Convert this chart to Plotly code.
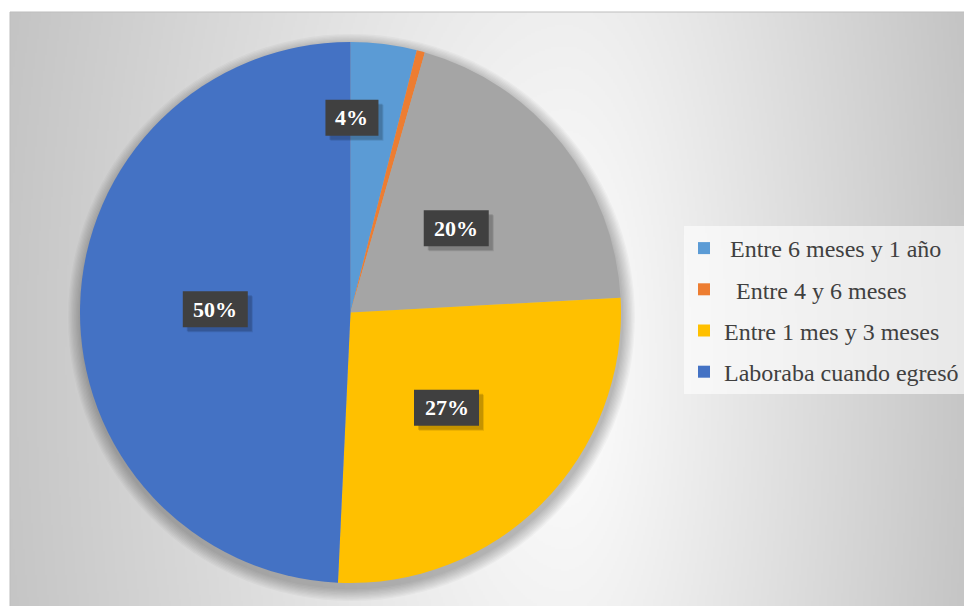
import base64
import math
import struct
import zlib

import numpy as np
import plotly.graph_objects as go

# ---- data -------------------------------------------------------------
# Slices in drawing order (clockwise from 12 o'clock), values in percent.
SLICE_VALUES = [4, 0.5, 20, 27, 50]
SLICE_COLORS = ["#5B9BD5", "#ED7D31", "#A5A5A5", "#FFC000", "#4472C4"]
# Text shown on each slice (None = no label on that slice)
SLICE_LABELS = ["4%", None, "20%", "27%", "50%"]

# Legend entries (the grey slice has no legend entry)
LEGEND_NAMES = ["\u00a0Entre 6 meses y 1 año", "\u00a0\u00a0Entre 4 y 6 meses",
                "Entre 1 mes y 3 meses", "Laboraba cuando egresó"]
LEGEND_COLORS = ["#5B9BD5", "#ED7D31", "#FFC000", "#4472C4"]

# ---- geometry (pixels) -------------------------------------------------
W, H = 964, 606
CX, CY, R = 350.5, 312.5, 270.5          # pie centre and radius
PANEL_X0, PANEL_Y0 = 10, 12                # chart-area top-left corner
# label placement inside each slice: (fraction along slice, radius factor)
LABEL_PLACE = [(0.03, 0.72), None, (0.5, 0.5), (0.5, 0.5), (0.5, 0.5)]


def px_to_paper(x, y):
    return x / W, 1 - y / H


# ---- grey gradient background ------------------------------------------
def gradient_png():
    step = 2
    xs = np.arange(PANEL_X0, W, step, dtype=float)
    ys = np.arange(PANEL_Y0, H, step, dtype=float)
    X, Y = np.meshgrid(xs, ys)
    gx, gy = 565.0, 360.0
    dx = X - gx
    tx = np.where(dx < 0, dx / 560.0, dx / 400.0)
    ty = (Y - gy) / 1200.0
    d = np.sqrt(tx ** 2 + ty ** 2)
    g = np.clip(255 - 57 * d, 0, 255).astype(np.uint8)
    h, w = g.shape
    raw = b"".join(b"\x00" + g[i].tobytes() for i in range(h))

    def chunk(kind, data):
        return (struct.pack(">I", len(data)) + kind + data
                + struct.pack(">I", zlib.crc32(kind + data) & 0xFFFFFFFF))

    png = (b"\x89PNG\r\n\x1a\n"
           + chunk(b"IHDR", struct.pack(">IIBBBBB", w, h, 8, 0, 0, 0, 0))
           + chunk(b"IDAT", zlib.compress(raw, 9))
           + chunk(b"IEND", b""))
    return "data:image/png;base64," + base64.b64encode(png).decode()


fig = go.Figure()

dx0, dy1 = px_to_paper(CX - R, CY - R)
dx1, dy0 = px_to_paper(CX + R, CY + R)

fig.add_trace(go.Pie(
    values=SLICE_VALUES,
    marker=dict(colors=SLICE_COLORS, line=dict(width=0)),
    sort=False,
    direction="clockwise",
    rotation=0,
    textinfo="none",
    hoverinfo="skip",
    showlegend=False,
    domain=dict(x=[dx0, dx1], y=[dy0, dy1]),
))

# legend entries as empty marker traces
for name, color in zip(LEGEND_NAMES, LEGEND_COLORS):
    fig.add_trace(go.Scatter(
        x=[None], y=[None], mode="markers", name=name, legendgroup=name,
        marker=dict(symbol="square", size=12, color=color),
    ))

# ---- shapes: panel outline and pie shadow ------------------------------
shapes = []
px0, py0 = px_to_paper(PANEL_X0, PANEL_Y0)
shapes.append(dict(type="rect", xref="paper", yref="paper", layer="below",
                   x0=px0, y0=-0.01, x1=1.01, y1=py0,
                   line=dict(color="#bdbdbd", width=1),
                   fillcolor="rgba(0,0,0,0)"))
for k in range(1, 11):
    rr = R + k * 1.3
    sx0, sy1 = px_to_paper(CX - rr + 1, CY - rr + 5)
    sx1, sy0 = px_to_paper(CX + rr + 1, CY + rr + 5)
    shapes.append(dict(type="circle", xref="paper", yref="paper",
                       layer="below", x0=sx0, x1=sx1, y0=sy0, y1=sy1,
                       line=dict(width=0),
                       fillcolor="rgba(0,0,0,0.028)"))

# ---- slice labels: dark boxes with a soft drop shadow -----------------
total = sum(SLICE_VALUES)
start = 0.0
annotations = []
BOX_H = 36
for val, text, place in zip(SLICE_VALUES, SLICE_LABELS, LABEL_PLACE):
    frac = val / total
    if text is not None:
        f_along, rf = place
        theta = 2 * math.pi * (start + frac * f_along)
        lx = CX + rf * R * math.sin(theta)
        ly = CY - rf * R * math.cos(theta)
        bw = 12 * len(text) + 29
        for off, fill in [(5, "rgba(0,0,0,0.10)"), (4, "rgba(0,0,0,0.14)"),
                          (0, "#404040")]:
            bx0, by1 = px_to_paper(lx - bw / 2 + off, ly - BOX_H / 2 + off)
            bx1, by0 = px_to_paper(lx + bw / 2 + off, ly + BOX_H / 2 + off)
            shapes.append(dict(type="rect", xref="paper", yref="paper",
                               layer="above", x0=bx0, x1=bx1, y0=by0, y1=by1,
                               line=dict(width=0), fillcolor=fill))
        ax, ay = px_to_paper(lx, ly)
        annotations.append(dict(
            x=ax, y=ay, xref="paper", yref="paper", showarrow=False,
            xanchor="center", yanchor="middle",
            text=text,
            font=dict(family="Liberation Serif", size=22, color="white",
                      weight="bold"),
        ))
    start += frac

fig.update_layout(
    width=W, height=H,
    margin=dict(l=0, r=0, t=0, b=0),
    paper_bgcolor="white",
    plot_bgcolor="rgba(0,0,0,0)",
    xaxis=dict(visible=False),
    yaxis=dict(visible=False),
    images=[dict(source=gradient_png(), xref="paper", yref="paper",
                 x=px0, y=py0, sizex=1 - px0, sizey=py0,
                 xanchor="left", yanchor="top", sizing="stretch",
                 layer="below")],
    shapes=shapes,
    annotations=annotations,
    legend=dict(
        x=684 / W, y=1 - 226 / H, xanchor="left", yanchor="top",
        bgcolor="rgba(255,255,255,0.6)",
        font=dict(family="Liberation Serif", size=24, color="#404040"),
        tracegroupgap=7,
        traceorder="grouped",
        itemclick=False,
    ),
)

fig.write_html("out.html")
